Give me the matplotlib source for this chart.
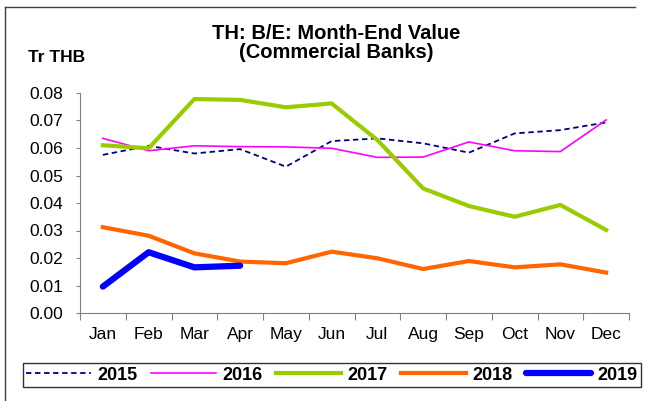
import matplotlib.pyplot as plt
from matplotlib.lines import Line2D

plt.rcParams['font.family'] = ['Liberation Sans', 'DejaVu Sans']

months = ['Jan', 'Feb', 'Mar', 'Apr', 'May', 'Jun',
          'Jul', 'Aug', 'Sep', 'Oct', 'Nov', 'Dec']
y2015 = [0.0575, 0.0608, 0.0580, 0.0596, 0.0532, 0.0625,
         0.0635, 0.0617, 0.0583, 0.0653, 0.0665, 0.0693]
y2016 = [0.0635, 0.0590, 0.0608, 0.0605, 0.0604, 0.0599,
         0.0566, 0.0567, 0.0622, 0.0590, 0.0587, 0.0702]
y2017 = [0.0610, 0.0599, 0.0778, 0.0775, 0.0748, 0.0762,
         0.0629, 0.0453, 0.0389, 0.0350, 0.0393, 0.0302]
y2018 = [0.0312, 0.0281, 0.0217, 0.0187, 0.0181, 0.0223,
         0.0199, 0.0160, 0.0189, 0.0166, 0.0177, 0.0147]
y2019 = [0.0096, 0.0221, 0.0166, 0.0172]

fig = plt.figure(figsize=(6.47, 4.01), dpi=100)
ax = fig.add_axes([80 / 647, 1 - 313 / 401, 549 / 647, 220 / 401])

x = list(range(len(months)))
ax.plot(x, y2015, color='#000080', lw=1.3, ls=(0, (3, 2)), label='2015')
ax.plot(x, y2016, color='#FF00FF', lw=1.2, label='2016')
ax.plot(x, y2017, color='#99CC00', lw=3, label='2017')
ax.plot(x, y2018, color='#FF6600', lw=3, label='2018')
ax.plot(x[:len(y2019)], y2019, color='#0000FF', lw=4.5, label='2019',
        solid_capstyle='round')

ax.set_xlim(-0.5, 11.5)
ax.set_ylim(0, 0.08)
ax.set_yticks([i / 100 for i in range(9)])
ax.set_yticklabels(['%.2f' % (i / 100) for i in range(9)], fontsize=12.5)
ax.set_xticks([i - 0.5 for i in range(13)])
ax.set_xticklabels([])
ax.set_xticks(x, minor=True)
ax.set_xticklabels(months, minor=True, fontsize=12.5)
ax.tick_params(axis='x', which='minor', length=0, pad=10)
ax.tick_params(axis='x', which='major', length=5, color='#808080')
ax.tick_params(axis='y', length=3, pad=9, color='#808080')
for s in ['top', 'right']:
    ax.spines[s].set_visible(False)
for s in ['left', 'bottom']:
    ax.spines[s].set_color('#808080')

fig.text(336 / 647, 1 - 43 / 401, 'TH: B/E: Month-End Value\n(Commercial Banks)',
         ha='center', va='center', fontsize=14.5, fontweight='bold',
         linespacing=1.05)
fig.text(28 / 647, 1 - 57 / 401, 'Tr THB', ha='left', va='center',
         fontsize=12.5, fontweight='bold')

leg = fig.legend(loc='center', bbox_to_anchor=(332 / 647, 1 - 375 / 401),
                 ncol=5, frameon=True, fancybox=False, handlelength=3.6,
                 columnspacing=0.75, handletextpad=0.35, borderpad=0.2,
                 borderaxespad=0,
                 prop={'weight': 'bold', 'size': 13})
leg.get_frame().set_edgecolor('black')
leg.get_frame().set_linewidth(1)

# outer frame like the source screenshot
fig.add_artist(Line2D([5 / 647, 5 / 647], [0, 1 - 7 / 401], color='#404040',
                      lw=1, transform=fig.transFigure))
fig.add_artist(Line2D([5 / 647, 635 / 647], [1 - 7 / 401, 1 - 7 / 401],
                      color='#404040', lw=1, transform=fig.transFigure))

plt.savefig('out.png', dpi=100)
